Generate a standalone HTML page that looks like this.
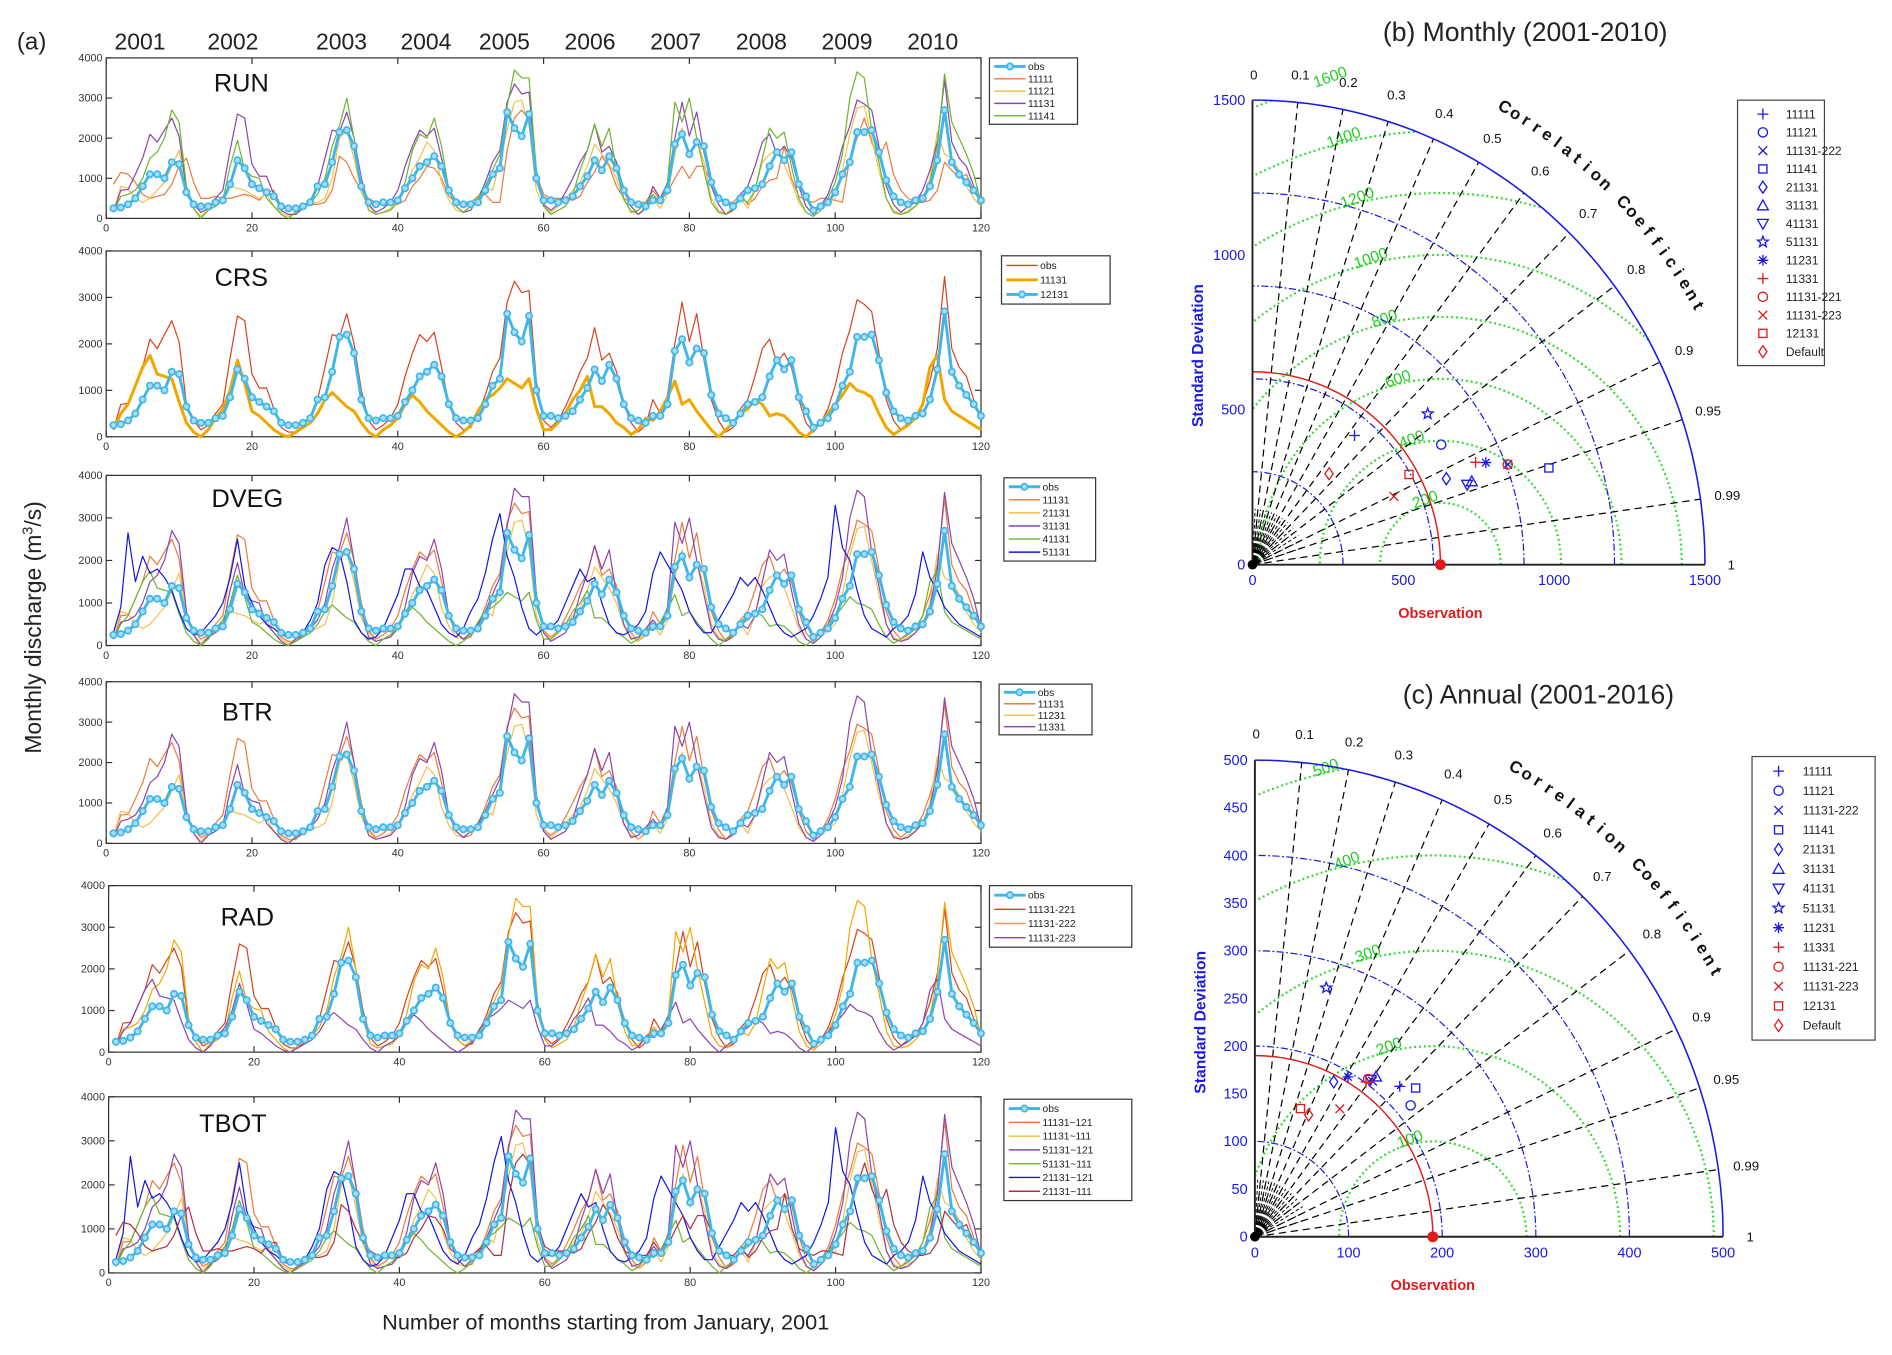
<!DOCTYPE html>
<html><head><meta charset="utf-8">
<style>
html,body{margin:0;padding:0;background:#fff;}
svg{display:block;font-family:"Liberation Sans",sans-serif;}
</style></head>
<body>
<svg id="fig" width="1892" height="1355" viewBox="0 0 1568 1123" preserveAspectRatio="none" xmlns="http://www.w3.org/2000/svg">
<rect width="1568" height="1123" fill="#fff"/>
</svg>
<script>
// ---------- data: monthly discharge (m3/s), months 1..120 ----------
const obs=[250,270,350,500,800,1100,1100,1000,1400,1350,650,350,300,300,400,450,850,1450,1250,850,750,650,550,300,250,250,300,400,800,850,1400,2150,2200,1800,800,400,350,400,400,450,750,1000,1300,1400,1550,1300,700,400,350,350,400,700,1100,1250,2650,2250,2050,2600,1000,450,450,400,450,550,800,1050,1450,1200,1550,1250,700,400,350,300,450,450,700,1850,2100,1600,1900,1800,900,500,400,300,500,700,750,850,1300,1650,1450,1650,850,550,200,300,400,650,1100,1400,2150,2150,2200,1650,950,550,400,350,450,500,800,1450,2700,1400,1100,900,700,450];
const s11131=[150,700,720,1100,1500,2100,1900,2200,2500,2050,700,350,150,250,500,700,1700,2600,2500,1350,1050,1050,600,200,100,100,250,400,800,1500,2200,2150,2650,2000,1000,350,150,250,400,700,1300,1800,2200,2050,2250,1500,700,300,150,200,500,900,1400,1700,2900,3350,3100,3150,1200,350,200,350,650,1000,1400,1700,2350,1650,1800,1400,700,300,100,250,800,500,900,2000,2900,2050,2650,1650,800,350,100,200,600,800,1300,1900,2100,1600,1800,1500,800,300,100,300,600,1100,1800,2300,2950,2850,2700,1800,800,350,150,300,400,700,1200,1900,3450,1900,1500,1300,800,400];
const s11131low=[150,500,700,1100,1500,1750,1350,1300,1250,750,300,100,0,150,400,600,1000,1650,1150,550,450,300,150,50,0,100,200,300,500,800,950,800,650,550,300,100,0,150,250,400,700,900,750,550,400,250,100,0,100,250,550,800,900,1050,1250,1150,1050,1250,600,150,150,300,500,800,1000,1300,650,650,500,300,200,50,150,400,350,550,850,1200,700,800,550,350,150,0,150,300,500,600,800,700,450,500,450,300,100,0,150,300,500,700,900,1150,1000,950,850,500,200,50,150,250,400,700,1500,1750,800,550,450,350,250,150];
const s11111=[850,1150,1100,900,600,500,550,600,850,1300,1500,900,500,500,550,500,500,550,600,550,450,650,700,300,250,250,300,350,350,400,700,1550,1400,1000,700,500,400,350,350,350,450,800,1000,1300,1250,1000,550,400,400,400,550,600,400,400,1700,2500,2700,2450,1100,600,500,500,500,450,550,900,1150,1550,1300,800,500,400,400,400,700,450,650,1000,1300,1000,1300,1300,900,550,400,400,600,350,500,800,950,1000,1800,1000,550,450,400,500,500,450,400,1500,2000,2500,1900,1500,1900,1100,700,500,400,400,450,700,1400,1200,1000,1100,700,400];
const s11121=[150,800,750,500,400,500,700,900,1300,1700,800,250,50,250,300,550,800,750,700,600,500,600,300,150,50,150,250,350,400,500,1000,2000,2200,1500,650,300,100,150,250,450,700,1200,1500,1900,1700,900,450,200,150,300,500,800,700,1400,2200,2900,2950,2300,700,300,150,300,500,700,900,1300,1850,1600,1350,1000,450,200,100,300,500,250,600,1600,2250,1500,2000,1400,500,200,100,300,500,250,700,1400,1600,1700,1350,900,400,150,50,200,350,500,1200,2100,2750,2800,2000,1200,500,200,100,200,300,500,1000,2150,1600,1500,1200,800,500,300];
const s11141=[150,550,600,700,1000,1500,1650,2000,2700,2400,800,250,0,200,300,450,1300,1950,1200,1050,1000,500,300,100,0,150,250,400,600,1000,1800,2300,3000,2000,800,200,100,150,200,400,900,1700,2100,2000,2500,1800,700,300,150,300,500,800,1200,1600,2800,3700,3500,3500,1200,300,100,200,300,600,1200,1700,2350,1800,2250,1200,500,150,200,400,600,400,900,2900,2400,3000,2000,1200,400,150,100,250,500,400,700,1500,2250,2000,2150,1300,500,150,50,200,500,900,1600,3000,3650,3500,2200,1400,500,150,100,150,300,500,900,1800,3600,2400,2000,1600,1100,400];
const s51131=[300,900,2650,1500,2100,1700,1800,1600,1300,800,400,250,300,500,700,1000,1600,2500,1400,1000,700,500,400,250,200,250,300,600,1000,1900,2300,2200,1500,600,300,150,200,400,800,1200,1800,1800,1400,1300,900,500,300,200,400,800,1100,1700,2500,3100,2100,1600,900,400,250,400,400,600,1000,1400,1800,1500,1600,1000,500,300,250,350,500,800,1700,2200,1900,1600,1300,800,500,300,300,600,900,1200,1600,1400,1600,1300,900,500,300,200,300,400,700,1100,1600,3300,2300,2000,1300,700,400,300,200,400,500,700,1200,2200,1600,1300,900,700,500,400,300,200];
const xTicks=[0,20,40,60,80,100,120];
const yTicks=[0,1000,2000,3000,4000];
const years=["2001","2002","2003","2004","2005","2006","2007","2008","2009","2010"];
// Taylor (b) monthly
const tbNames=["11111","11121","11131-222","11141","21131","31131","41131","51131","11231","11331","11131-221","11131-223","12131","Default"];
const tbStd=[537,736,906,1031,700,775,757,758,841,810,906,518,595,388];
const tbCorr=[0.63,0.85,0.934,0.953,0.918,0.938,0.940,0.766,0.920,0.913,0.934,0.905,0.872,0.654];
const tbObs=623;
// Taylor (c) annual
const tcStd=[221,216,206,232,183,212,206,272,195,201,205,162,143,140];
const tcCorr=[0.70,0.77,0.61,0.74,0.46,0.61,0.60,0.28,0.51,0.59,0.59,0.56,0.34,0.41];
const tcObs=190;
const corrTicks=[0.1,0.2,0.3,0.4,0.5,0.6,0.7,0.8,0.9,0.95,0.99];
const markerTypes=["plus","circle","x","square","diamond","tri","trid","star","ast","plus","circle","x","square","diamond"];
const markerColors=["#1a1ae6","#1a1ae6","#1a1ae6","#1a1ae6","#1a1ae6","#1a1ae6","#1a1ae6","#1a1ae6","#1a1ae6","#e01b1b","#e01b1b","#e01b1b","#e01b1b","#e01b1b"];

const NS="http://www.w3.org/2000/svg";
const svg=document.getElementById('fig');
function mk(tag,attrs,parent){const e=document.createElementNS(NS,tag);for(const k in attrs)e.setAttribute(k,attrs[k]);(parent||svg).appendChild(e);return e;}
function txt(s,attrs,parent){const e=mk('text',attrs,parent);e.textContent=s;return e;}

const C={orange:"#ec7a3c",yellow:"#f3c04a",purple:"#8e44ad",green:"#6cb52f",blue:"#1515e8",red:"#c9302c",obs:"#3fb6ea",red2:"#d9411e",gold:"#f0a800"};

const panels=[
 {name:"RUN",x0:88,x1:813,y0:48,y1:181,tx:200,ty:76,leg:{x:820,y:48,w:73,h:55},
  series:[{d:obs,c:C.obs,obs:true,l:"obs"},{d:s11111,c:C.orange,l:"11111"},{d:s11121,c:C.yellow,l:"11121"},{d:s11131,c:C.purple,l:"11131"},{d:s11141,c:C.green,l:"11141"}]},
 {name:"CRS",x0:88,x1:813,y0:208,y1:362,tx:200,ty:237,leg:{x:830,y:212,w:90,h:40},
  series:[{d:s11131,c:C.red2,l:"obs"},{d:s11131low,c:C.gold,w:2.5,l:"11131"},{d:obs,c:C.obs,obs:true,l:"12131"}]},
 {name:"DVEG",x0:88,x1:813,y0:394,y1:535,tx:205,ty:420,leg:{x:832,y:396,w:76,h:69},
  series:[{d:obs,c:C.obs,obs:true,l:"obs"},{d:s11131,c:C.orange,l:"11131"},{d:s11121,c:C.yellow,l:"21131"},{d:s11141,c:C.purple,l:"31131"},{d:s11131low,c:C.green,l:"41131"},{d:s51131,c:C.blue,l:"51131"}]},
 {name:"BTR",x0:88,x1:813,y0:565,y1:699,tx:205,ty:597,leg:{x:828,y:567,w:77,h:42},
  series:[{d:obs,c:C.obs,obs:true,l:"obs"},{d:s11131,c:C.orange,l:"11131"},{d:s11121,c:C.yellow,l:"11231"},{d:s11141,c:C.purple,l:"11331"}]},
 {name:"RAD",x0:90,x1:813,y0:734,y1:872,tx:205,ty:767,leg:{x:820,y:734,w:118,h:51},
  series:[{d:obs,c:C.obs,obs:true,l:"obs"},{d:s11131,c:C.red2,l:"11131-221"},{d:s11141,c:C.gold,l:"11131-222"},{d:s11131low,c:C.purple,l:"11131-223"}]},
 {name:"TBOT",x0:90,x1:813,y0:909,y1:1055,tx:193,ty:938,leg:{x:832,y:911,w:106,h:84},
  series:[{d:obs,c:C.obs,obs:true,l:"obs"},{d:s11131,c:C.orange,l:"11131~121"},{d:s11121,c:C.yellow,l:"11131~111"},{d:s11141,c:C.purple,l:"51131~121"},{d:s11131low,c:C.green,l:"51131~111"},{d:s51131,c:C.blue,l:"21131~121"},{d:s11111,c:"#b03040",l:"21131~111"}]}
];

// header texts
let t=txt("(a)",{x:14,y:41,"font-size":20,fill:"#222"});


const yearX=[116,193,283,353,418,489,560,631,702,773];
years.forEach((y,i)=>{
 const e=txt(y,{x:yearX[i],y:41,"font-size":19,fill:"#222","text-anchor":"middle"});
 
 
});
t=txt("Monthly discharge (m",{transform:"translate(34,520) rotate(-90)","font-size":19,fill:"#222","text-anchor":"middle"});


const sup=mk('tspan',{dy:-7,"font-size":12},t);sup.textContent="3";
const rest=mk('tspan',{dy:7},t);rest.textContent="/s)";
t=txt("Number of months starting from January, 2001",{x:502,y:1102,"font-size":18,fill:"#222","text-anchor":"middle"});



panels.forEach(p=>{
 const g=mk('g',{});
 
 
 const X=v=>p.x0+(v/120)*(p.x1-p.x0);
 const Y=v=>p.y1-(v/4000)*(p.y1-p.y0);
 const fr=mk('rect',{x:p.x0,y:p.y0,width:p.x1-p.x0,height:p.y1-p.y0,fill:"#fff",stroke:"#333","stroke-width":1},g);
 
 
 xTicks.forEach(v=>{
  mk('line',{x1:X(v),x2:X(v),y1:p.y1,y2:p.y1-5,stroke:"#333"},g);
  mk('line',{x1:X(v),x2:X(v),y1:p.y0,y2:p.y0+5,stroke:"#333"},g);
  const e=txt(String(v),{x:X(v),y:p.y1+11,"font-size":9,fill:"#333","text-anchor":"middle"},g);
  
  
 });
 yTicks.forEach(v=>{
  mk('line',{x1:p.x0,x2:p.x0+5,y1:Y(v),y2:Y(v),stroke:"#333"},g);
  mk('line',{x1:p.x1,x2:p.x1-5,y1:Y(v),y2:Y(v),stroke:"#333"},g);
  const e=txt(String(v),{x:p.x0-3,y:Y(v)+3,"font-size":9,fill:"#333","text-anchor":"end"},g);
  
  
 });
 const tt=txt(p.name,{x:p.tx,y:p.ty,"font-size":21,fill:"#111","text-anchor":"middle"},g);
 
 
 const order=p.series.filter(s=>!s.obs).concat(p.series.filter(s=>s.obs));
 order.forEach(s=>{
  const pts=s.d.map((v,i)=>X(i+1).toFixed(1)+","+Y(v).toFixed(1)).join(" ");
  const pl=mk('polyline',{points:pts,fill:"none",stroke:s.c,"stroke-width":s.obs?2.4:(s.w||1),"stroke-linejoin":"round"},g);
  
  
  if(s.obs){
   s.d.forEach((v,i)=>{
    const c=mk('circle',{cx:X(i+1),cy:Y(v),r:2.6,fill:"#a9ddf6",stroke:s.c,"stroke-width":1.4},g);
    
    
   });
  }
 });
 // legend
 const L=p.leg;
 const lg=mk('g',{},g);
 
 
 mk('rect',{x:L.x,y:L.y,width:L.w,height:L.h,fill:"#fff",stroke:"#333","stroke-width":1},lg);
 const n=p.series.length,rh=(L.h-4)/n;
 p.series.forEach((s,i)=>{
  const yy=L.y+2+rh*(i+0.5);
  const ln=mk('line',{x1:L.x+4,x2:L.x+30,y1:yy,y2:yy,stroke:s.c,"stroke-width":s.obs?2.4:(s.w||1.2)},lg);
  
  
  if(s.obs)mk('circle',{cx:L.x+17,cy:yy,r:2.6,fill:"#a9ddf6",stroke:s.c,"stroke-width":1.4},lg);
  const e=txt(s.l,{x:L.x+32,y:yy+3,"font-size":rh>12?10:8.5,fill:"#222"},lg);
  
  
 });
});

// ---------- Taylor diagrams ----------
function marker(g,type,x,y,col){
 const s=4.5;let e;
 const a={fill:"none",stroke:col,"stroke-width":1.1};
 if(type=="plus")e=mk('path',Object.assign({d:`M${x-s} ${y}H${x+s}M${x} ${y-s}V${y+s}`},a),g);
 else if(type=="circle")e=mk('circle',Object.assign({cx:x,cy:y,r:s*0.85},a),g);
 else if(type=="x")e=mk('path',Object.assign({d:`M${x-s*.8} ${y-s*.8}L${x+s*.8} ${y+s*.8}M${x-s*.8} ${y+s*.8}L${x+s*.8} ${y-s*.8}`},a),g);
 else if(type=="square")e=mk('rect',Object.assign({x:x-s*.75,y:y-s*.75,width:s*1.5,height:s*1.5},a),g);
 else if(type=="diamond")e=mk('path',Object.assign({d:`M${x} ${y-s*1.1}L${x+s*.75} ${y}L${x} ${y+s*1.1}L${x-s*.75} ${y}Z`},a),g);
 else if(type=="tri")e=mk('path',Object.assign({d:`M${x} ${y-s}L${x+s} ${y+s*.8}L${x-s} ${y+s*.8}Z`},a),g);
 else if(type=="trid")e=mk('path',Object.assign({d:`M${x} ${y+s}L${x+s} ${y-s*.8}L${x-s} ${y-s*.8}Z`},a),g);
 else if(type=="star"){let d="";for(let k=0;k<10;k++){const r=k%2?s*0.45:s*1.05;const an=-Math.PI/2+k*Math.PI/5;d+=(k?"L":"M")+(x+r*Math.cos(an)).toFixed(1)+" "+(y+r*Math.sin(an)).toFixed(1);}e=mk('path',Object.assign({d:d+"Z"},a),g);}
 else if(type=="ast")e=mk('path',Object.assign({d:`M${x-s} ${y}H${x+s}M${x} ${y-s}V${y+s}M${x-s*.7} ${y-s*.7}L${x+s*.7} ${y+s*.7}M${x-s*.7} ${y+s*.7}L${x+s*.7} ${y-s*.7}`},a),g);
 return e;
}
function taylor(T){
 const g=mk('g',{});
 
 
 const P=(x,y)=>[T.ox+x*T.sx,T.oy-y*T.sy];
 const polar=(r,th)=>P(r*Math.cos(th),r*Math.sin(th));
 const arcPts=(r)=>{let a=[];for(let k=0;k<=90;k++){const q=polar(r,k*Math.PI/180);a.push(q[0].toFixed(1)+","+q[1].toFixed(1));}return a.join(" ");};
 const tt=txt(T.title,{x:T.titleX,y:T.titleY,"font-size":22,fill:"#222","text-anchor":"middle"},g);
 
 
 // dense short corr lines near origin
 for(let k=1;k<20;k++){const th=Math.acos(k/20);const q=polar(T.rmax*0.12,th);mk('line',{x1:T.ox,y1:T.oy,x2:q[0],y2:q[1],stroke:"#000","stroke-width":0.8,"stroke-dasharray":"3,2"},g);}
 // green RMS arcs
 T.rms.forEach((r,i)=>{
  let segs=[],cur=[];
  for(let k=0;k<=360;k++){const an=k*Math.PI/360;const x=T.obs+r*Math.cos(an),y=r*Math.sin(an);
   if(x>=0&&Math.hypot(x,y)<=T.rmax){const q=P(x,y);cur.push(q[0].toFixed(1)+","+q[1].toFixed(1));}else{if(cur.length>1)segs.push(cur);cur=[];}}
  if(cur.length>1)segs.push(cur);
  segs.forEach(sg=>{const e=mk('polyline',{points:sg.join(" "),fill:"none",stroke:"#22dd22","stroke-width":1.8,"stroke-dasharray":"1.5,2.5"},g);
   
   });
  const an=103*Math.PI/180;const x=T.obs+r*Math.cos(an),y=r*Math.sin(an);
  if(Math.hypot(x,y)<=T.rmax*1.12&&x>=-5){const q=P(x,y);const e=txt(String(r),{x:q[0],y:q[1],"font-size":13,fill:"#22cc22","text-anchor":"middle",transform:`rotate(-20 ${q[0]} ${q[1]})`},g);
   
   }
 });
 // std arcs
 T.stdArcs.forEach(r=>{const e=mk('polyline',{points:arcPts(r),fill:"none",stroke:"#1a1ae6","stroke-width":1,"stroke-dasharray":"6,2,1.5,2"},g);
  
  });
 // corr lines
 corrTicks.forEach(c=>{const th=Math.acos(c);const q=polar(T.rmax,th);
  const e=mk('line',{x1:T.ox,y1:T.oy,x2:q[0],y2:q[1],stroke:"#000","stroke-width":1,"stroke-dasharray":"6,4"},g);
  
  
  const l=polar(T.rmax*1.06,th);
  const lt=txt(String(c),{x:l[0],y:l[1]+4,"font-size":11,fill:"#111","text-anchor":"middle"},g);
  
  });
 let q0=polar(T.rmax*1.05,Math.PI/2);txt("0",{x:q0[0]-2,y:q0[1]+2,"font-size":11,fill:"#111"},g);
 q0=polar(T.rmax*1.05,0);txt("1",{x:q0[0],y:q0[1]+4,"font-size":11,fill:"#111"},g);
 // obs arc
 const oa=mk('polyline',{points:arcPts(T.obs),fill:"none",stroke:"#e01b1b","stroke-width":1.2},g);
 
 
 // outer arc and axes
 const ob=mk('polyline',{points:arcPts(T.rmax),fill:"none",stroke:"#1a1ae6","stroke-width":1.3},g);
 
 
 const top=P(0,T.rmax),right=P(T.rmax,0);
 mk('line',{x1:T.ox,y1:T.oy,x2:top[0],y2:top[1],stroke:"#222","stroke-width":1.6},g);
 mk('line',{x1:T.ox,y1:T.oy,x2:right[0],y2:right[1],stroke:"#222","stroke-width":1.6},g);
 mk('circle',{cx:T.ox,cy:T.oy,r:4,fill:"#000"},g);
 T.xt.forEach(v=>{const q=P(v,0);const e=txt(String(v),{x:q[0],y:q[1]+17,"font-size":12,fill:"#1a1ae6","text-anchor":"middle"},g);
  
  });
 T.yt.forEach(v=>{const q=P(0,v);const e=txt(String(v),{x:q[0]-6,y:q[1]+4,"font-size":12,fill:"#1a1ae6","text-anchor":"end"},g);
  
  });
 let e=txt("Standard Deviation",{transform:`translate(${T.ox-41},${T.oy-T.rmax*T.sy*0.45}) rotate(-90)`,"font-size":13,"font-weight":"bold",fill:"#1a1ae6","text-anchor":"middle"},g);
 
 
 const oq=P(T.obs,0);
 e=txt("Observation",{x:oq[0],y:T.oy+44,"font-size":12,"font-weight":"bold",fill:"#e01b1b","text-anchor":"middle"},g);
 
 
 e=mk('circle',{cx:oq[0],cy:oq[1],r:4.5,fill:"#e01b1b"},g);
 
 
 // curved title
 const word="Correlation Coefficient";
 for(let k=0;k<word.length;k++){const deg=60.5-k*(31/(word.length-1));const th=deg*Math.PI/180;const q=polar(T.rmax*1.12,th);
  const ch=txt(word[k],{x:q[0],y:q[1],"font-size":14,"font-weight":"bold",fill:"#111","text-anchor":"middle",transform:`rotate(${90-deg} ${q[0]} ${q[1]})`},g);
  
  }
 // model points
 T.std.forEach((s,i)=>{const th=Math.acos(T.corr[i]);const q=polar(s,th);
  const m=marker(g,markerTypes[i],q[0],q[1],markerColors[i]);
  
  });
 // legend
 const L=T.leg;const lg=mk('g',{},g);
 
 
 mk('rect',{x:L.x,y:L.y,width:L.w,height:L.h,fill:"#fff",stroke:"#444","stroke-width":1},lg);
 const rh=(L.h-8)/tbNames.length;
 tbNames.forEach((nm,i)=>{const yy=L.y+4+rh*(i+0.5);
  marker(lg,markerTypes[i],L.x+L.mx,yy,markerColors[i]);
  const le=txt(nm,{x:L.x+L.tx,y:yy+3.5,"font-size":10,fill:"#222"},lg);
  
  });
}
taylor({id:"taylor-monthly",title:"(b) Monthly (2001-2010)",titleX:1264,titleY:34,ox:1038,oy:468,sx:0.25,sy:0.2567,rmax:1500,obs:tbObs,std:tbStd,corr:tbCorr,
 rms:[200,400,600,800,1000,1200,1400,1600],stdArcs:[300,600,900,1200],xt:[0,500,1000,1500],yt:[0,500,1000,1500],
 leg:{x:1440,y:83,w:72,h:220,mx:21,tx:40}});
taylor({id:"taylor-annual",title:"(c) Annual (2001-2016)",titleX:1275,titleY:583,ox:1040,oy:1025,sx:0.776,sy:0.79,rmax:500,obs:tcObs,std:tcStd,corr:tcCorr,
 rms:[100,200,300,400,500],stdArcs:[100,200,300,400],xt:[0,100,200,300,400,500],yt:[0,50,100,150,200,250,300,350,400,450,500],
 leg:{x:1452,y:627,w:102,h:235,mx:22,tx:42}});
</script>
</body></html>
